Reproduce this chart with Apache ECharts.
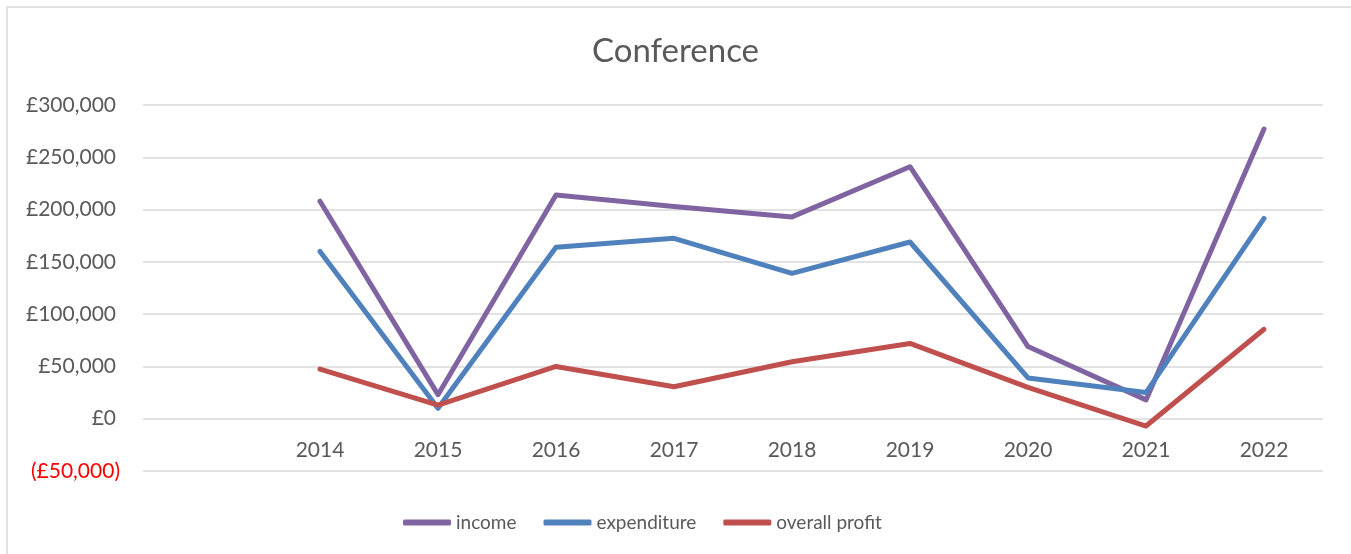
<!DOCTYPE html>
<html>
<head>
<meta charset="utf-8">
<title>Conference</title>
<script src="https://cdn.jsdelivr.net/npm/echarts@6/dist/echarts.min.js"></script>
<style>
  html, body { margin: 0; padding: 0; background: #fff; }
  #chart { width: 1351px; height: 554px; }
</style>
</head>
<body>
<div id="chart"></div>
<script>
// first category is blank in the source sheet
const years = ['', '2014', '2015', '2016', '2017', '2018', '2019', '2020', '2021', '2022']
const income = ['-', 208000, 23000, 214000, 203000, 193000, 241000, 69000, 18000, 277000]
const expenditure = ['-', 160000, 10000, 164000, 172500, 139000, 169000, 39000, 25000, 191500]
const overallProfit = ['-', 47500, 13000, 50000, 30500, 54500, 72000, 30000, -7000, 85500]
const seriesNames = ['income', 'expenditure', 'overall profit']

const font = 'Lato, "Open Sans", sans-serif'
const grey = '#595959'

const chart = echarts.init(document.getElementById('chart'))

function money (v) {
  let s = '£' + Math.abs(v).toLocaleString('en-GB')
  return v < 0 ? '{neg|(' + s + ')}' : '{pos|' + s + '}'
}

function lineSeries (name, data, color) {
  return {
    name: name,
    type: 'line',
    data: data,
    symbol: 'none',
    color: color,
    lineStyle: { width: 5, color: color, cap: 'round', join: 'round' }
  }
}

chart.setOption({
  animation: false,
  textStyle: { fontFamily: font },
  title: {
    text: 'Conference',
    left: 'center',
    top: 30,
    textStyle: { fontFamily: font, fontSize: 33, fontWeight: 'normal', color: grey }
  },
  graphic: [{
    // chart frame
    type: 'rect',
    shape: { x: 7, y: 7, width: 1400, height: 600 },
    style: { fill: 'none', stroke: '#D9D9D9', lineWidth: 1.5 },
    silent: true
  }],
  legend: {
    left: 398,
    top: 508,
    icon: 'roundRect',
    itemWidth: 48,
    itemHeight: 6,
    itemGap: 27,
    textStyle: { fontFamily: font, fontSize: 19, color: grey },
    data: seriesNames
  },
  grid: {
    left: 143,
    right: 28,
    top: 105,
    bottom: 83,
    containLabel: false
  },
  xAxis: {
    type: 'category',
    data: years,
    boundaryGap: true,
    // labels sit under the zero line, one band above the grid bottom
    offset: -52.3,
    axisLine: { show: false, onZero: false },
    axisTick: { show: false },
    axisLabel: { fontFamily: font, fontSize: 21, color: grey, margin: 21 }
  },
  yAxis: {
    type: 'value',
    min: -50000,
    max: 300000,
    interval: 50000,
    axisLine: { show: false },
    axisTick: { show: false },
    splitLine: { lineStyle: { color: '#D9D9D9', width: 1.5 } },
    axisLabel: {
      margin: 23,
      formatter: money,
      rich: {
        pos: { fontFamily: font, fontSize: 21, color: grey, padding: [0, 4, 0, 0] },
        neg: { fontFamily: font, fontSize: 21, color: '#FF0000' }
      }
    }
  },
  series: [
    lineSeries(seriesNames[0], income, '#8064A2'),
    lineSeries(seriesNames[1], expenditure, '#4F81BD'),
    lineSeries(seriesNames[2], overallProfit, '#C0504D')
  ]
})
</script>
</body>
</html>
